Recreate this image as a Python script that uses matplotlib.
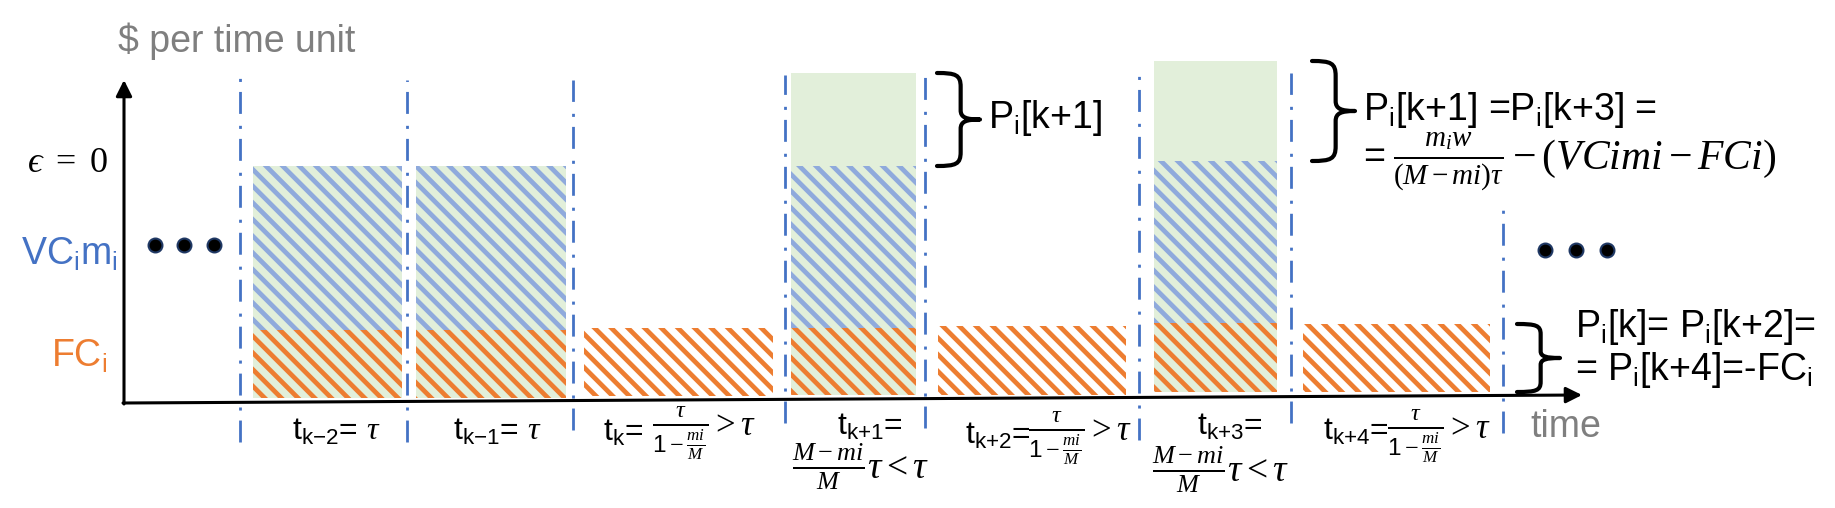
import matplotlib
matplotlib.use("Agg")
import matplotlib.pyplot as plt
from matplotlib.path import Path
from matplotlib.patches import PathPatch

plt.rcParams['font.family'] = ['Liberation Sans', 'DejaVu Sans']
plt.rcParams['mathtext.fontset'] = 'custom'
plt.rcParams['mathtext.rm'] = 'Liberation Serif'
plt.rcParams['mathtext.it'] = 'Liberation Serif:italic'
plt.rcParams['mathtext.bf'] = 'Liberation Serif:bold'
plt.rcParams['mathtext.sf'] = 'Liberation Sans'
plt.rcParams['hatch.linewidth'] = 3.4

# --- data (units: pixels from the origin, time to the right, $ upward) ---
bar_left = [129, 292, 460, 667, 814, 1030, 1179]
bar_right = [278, 442, 649, 792, 1002, 1153, 1366]
bar_base = [5, 5, 7, 8, 8, 11, 11]
fc_top = [73, 73, 75, 75, 77, 80, 79]
vc_top = [237, 237, 0, 237, 0, 242, 0]        # 0 = machine idle
profit_top = [0, 0, 0, 330, 0, 342, 0]        # 0 = no extra profit block

slot_x = [116, 283, 449, 661, 801, 1015, 1167, 1379]
slot_top = [325, 323, 323, 328, 328, 328, 330, 196]
slot_bottom = [-39, -39, -27, -20, -25, -37, -20, -30]

# braces: (bar index, which block, x left, x right)
braces = [(3, 'profit', 813, 856), (5, 'profit', 1188, 1231), (6, 'fc', 1393, 1436)]

dots_left_x = [31, 60, 90]
dots_left_y = 158
dots_right_x = [1421, 1452, 1483]
dots_right_y = 153

GREEN = '#E2EFDA'
BLUE_H = '#8FAADC'
ORANGE = '#ED7D31'
BLUE = '#4472C4'
GREY = '#7F7F7F'

fig = plt.figure(figsize=(18.35, 5.08), dpi=100)
ax = fig.add_axes([0, 0, 1, 1])
ax.set_xlim(-124, 1711)
ax.set_ylim(-105, 403)
ax.axis('off')

# bars
for i in range(len(bar_left)):
    w = bar_right[i] - bar_left[i]
    busy = vc_top[i] > 0
    ax.bar(bar_left[i], fc_top[i] - bar_base[i], width=w, bottom=bar_base[i], align='edge',
           color=GREEN if busy else 'white', edgecolor=ORANGE, hatch='\\\\', linewidth=0)
    if busy:
        ax.bar(bar_left[i], vc_top[i] - fc_top[i], width=w, bottom=fc_top[i], align='edge',
               color=GREEN, edgecolor=BLUE_H, hatch='\\\\', linewidth=0)
    if profit_top[i] > 0:
        ax.bar(bar_left[i], profit_top[i] - vc_top[i], width=w, bottom=vc_top[i], align='edge',
               color=GREEN, linewidth=0)

# slot separators
for x, t, b in zip(slot_x, slot_top, slot_bottom):
    ax.plot([x, x], [b, t], color=BLUE, lw=2.0, linestyle=(0, (7.9, 3.6, 1.1, 4.3)))

# axes arrows
arr = dict(arrowstyle='-|>', lw=2.2, color='black', mutation_scale=24, shrinkA=0, shrinkB=0)
ax.annotate('', xy=(0, 323), xytext=(0, -1), arrowprops=arr)
ax.annotate('', xy=(1458, 8), xytext=(-1, 0), arrowprops=arr)

# dots
ax.plot(dots_left_x, [dots_left_y] * 3, 'o', ms=10, mfc='black', mec='#1F3864', mew=1.5)
ax.plot(dots_right_x, [dots_right_y] * 3, 'o', ms=10, mfc='black', mec='#1F3864', mew=1.5)


def draw_brace(x0, x1, y0, y1):
    h = y1 - y0
    ym = (y0 + y1) / 2
    xs = x0 + 0.55 * (x1 - x0)
    verts = [(x0, y1),
             (x0 + 0.8 * (xs - x0), y1), (xs, y1 - 0.02 * h), (xs, y1 - 0.15 * h),
             (xs, ym + 0.1 * h),
             (xs, ym + 0.02 * h), (xs + 0.3 * (x1 - xs), ym), (x1, ym),
             (xs + 0.3 * (x1 - xs), ym), (xs, ym - 0.02 * h), (xs, ym - 0.1 * h),
             (xs, y0 + 0.15 * h),
             (xs, y0 + 0.02 * h), (x0 + 0.8 * (xs - x0), y0), (x0, y0)]
    codes = [Path.MOVETO] + [Path.CURVE4] * 3 + [Path.LINETO] + [Path.CURVE4] * 6 + \
            [Path.LINETO] + [Path.CURVE4] * 3
    ax.add_patch(PathPatch(Path(verts, codes), fill=False, lw=3.0, edgecolor='black',
                           capstyle='round', joinstyle='round'))


for idx, block, xl, xr in braces:
    if block == 'profit':
        draw_brace(xl, xr, vc_top[idx], profit_top[idx])
    else:
        draw_brace(xl, xr, bar_base[idx], fc_top[idx])

# axis labels
ax.text(-6, 351, r'\$ per time unit', fontsize=27, color=GREY, ha='left', va='baseline')
ax.text(1406, -34, 'time', fontsize=27, color=GREY, ha='left', va='baseline')
ax.text(-16, 241, '$\u03f5\\ =\\ 0$', fontsize=26, ha='right', va='center')
ax.text(-6, 138, r'$\mathsf{VC_im_i}$', fontsize=27, color=BLUE, ha='right', va='baseline')
ax.text(-17, 36, r'$\mathsf{FC_i}$', fontsize=27, color=ORANGE, ha='right', va='baseline')

# slot duration labels
long_frac = r'$\frac{\tau}{\mathsf{1}-\frac{mi}{M}} > \tau$'
short_frac = r'$\frac{M-mi}{M}\tau < \tau$'
ax.text(168, -37, r'$\mathsf{t_{k{-}2}}$= $\tau$', fontsize=23, ha='left', va='baseline')
ax.text(329, -37, r'$\mathsf{t_{k{-}1}}$= $\tau$', fontsize=23, ha='left', va='baseline')
ax.text(479, -38, r'$\mathsf{t_k}$=', fontsize=23, ha='left', va='baseline')
ax.text(528, -32, long_frac, fontsize=25, ha='left', va='baseline')
ax.text(713, -32, r'$\mathsf{t_{k{+}1}}$=', fontsize=23, ha='left', va='baseline')
ax.text(668, -75.5, short_frac, fontsize=27, ha='left', va='baseline')
ax.text(841, -41, r'$\mathsf{t_{k{+}2}}$=', fontsize=23, ha='left', va='baseline')
ax.text(904, -37, long_frac, fontsize=25, ha='left', va='baseline')
ax.text(1073, -32, r'$\mathsf{t_{k{+}3}}$=', fontsize=23, ha='left', va='baseline')
ax.text(1028, -78.5, short_frac, fontsize=27, ha='left', va='baseline')
ax.text(1199, -37, r'$\mathsf{t_{k{+}4}}$=', fontsize=23, ha='left', va='baseline')
ax.text(1263, -35, long_frac, fontsize=25, ha='left', va='baseline')

# profit annotations
ax.text(864, 275, r'$\mathsf{P_i[k{+}1]}$', fontsize=27, ha='left', va='baseline')
ax.text(1239, 283, r'$\mathsf{P_i[k{+}1]}$ =$\mathsf{P_i[k{+}3]}$ =', fontsize=27,
        ha='left', va='baseline')
ax.text(1239, 235, '=', fontsize=27, ha='left', va='baseline')
ax.text(1269, 234, r'$\frac{m_iw}{(M-mi)\tau} - (VCimi - FCi)$', fontsize=30,
        ha='left', va='baseline')
ax.text(1451, 66, r'$\mathsf{P_i[k]}$= $\mathsf{P_i[k{+}2]}$=', fontsize=27,
        ha='left', va='baseline')
ax.text(1451, 23, r'= $\mathsf{P_i[k{+}4]}$=-$\mathsf{FC_i}$', fontsize=27,
        ha='left', va='baseline')

fig.savefig('out.png', dpi=100)
